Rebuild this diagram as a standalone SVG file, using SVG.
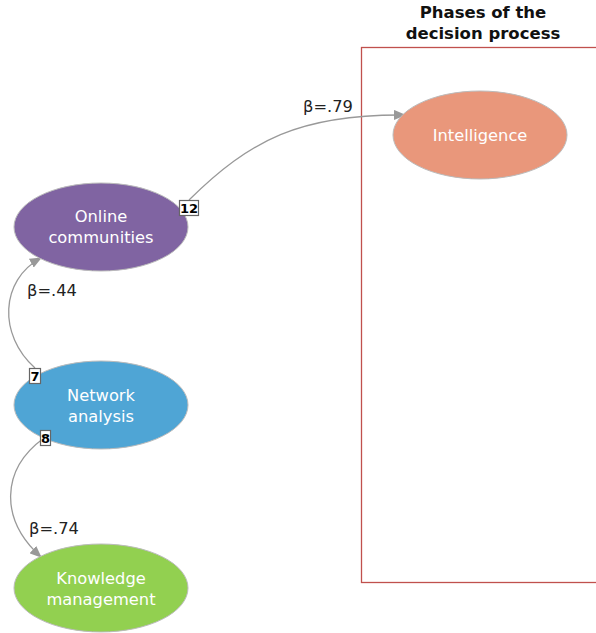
<svg xmlns="http://www.w3.org/2000/svg" width="596" height="633" viewBox="0 0 596 633">
<style>
.node text{font-family:"DejaVu Sans",Verdana,sans-serif;font-size:16.3px;fill:#fff;text-anchor:middle}
.lbl{font-family:"DejaVu Sans",Verdana,sans-serif;font-size:16.3px;fill:#222}
.edge{fill:none;stroke:#999;stroke-width:1.3}
.tag rect{fill:#fff;stroke:#666;stroke-width:1.2}
.tag text{font-family:"DejaVu Sans",Verdana,sans-serif;font-size:13px;font-weight:bold;fill:#000;text-anchor:middle}
.title{font-family:"DejaVu Sans",Verdana,sans-serif;font-size:16.5px;font-weight:bold;fill:#111;text-anchor:middle}
ellipse{stroke:#bbb;stroke-width:1}
</style>
<defs>
<marker id="arr" markerWidth="12" markerHeight="10" refX="11" refY="5" orient="auto" markerUnits="userSpaceOnUse">
<path d="M0,0 L12,5 L0,10 Z" fill="#999"/>
</marker>
</defs>
<g id="phase-box">
<rect x="361.5" y="47.5" width="240" height="535" fill="none" stroke="#c0504d" stroke-width="1.3"/>
<text class="title" x="483" y="18">Phases of the</text>
<text class="title" x="483" y="39">decision process</text>
</g>
<g id="connectors">
<path class="edge" d="M189,200 C250,140 300,114 405,115" marker-end="url(#arr)"/>
<path class="edge" d="M35,368 C-2,335 0,280 41,258" marker-end="url(#arr)"/>
<path class="edge" d="M44,438 C0,470 0,520 41,557" marker-end="url(#arr)"/>
<text class="lbl" x="303" y="112">β=.79</text>
<text class="lbl" x="27" y="296">β=.44</text>
<text class="lbl" x="29" y="534">β=.74</text>
</g>
<g id="intelligence" class="node">
<ellipse cx="480" cy="135" rx="87" ry="44" fill="#e9977b"/>
<text x="480" y="141">Intelligence</text>
</g>
<g id="online-communities" class="node">
<ellipse cx="101" cy="227" rx="87" ry="44" fill="#8064a2"/>
<text x="101" y="222">Online</text>
<text x="101" y="243">communities</text>
</g>
<g id="network-analysis" class="node">
<ellipse cx="101" cy="405" rx="87" ry="44" fill="#4fa5d5"/>
<text x="101" y="401">Network</text>
<text x="101" y="422">analysis</text>
</g>
<g id="knowledge-management" class="node">
<ellipse cx="101" cy="588" rx="87" ry="44" fill="#92d050"/>
<text x="101" y="584">Knowledge</text>
<text x="101" y="605">management</text>
</g>
<g id="edge-tags">
<g class="tag"><rect x="179.5" y="200.5" width="19" height="15"/><text x="189" y="212.5">12</text></g>
<g class="tag"><rect x="29.5" y="368.5" width="11" height="15"/><text x="35" y="380.5">7</text></g>
<g class="tag"><rect x="40.5" y="430.5" width="10" height="15"/><text x="45.5" y="442.5">8</text></g>
</g>
</svg>
